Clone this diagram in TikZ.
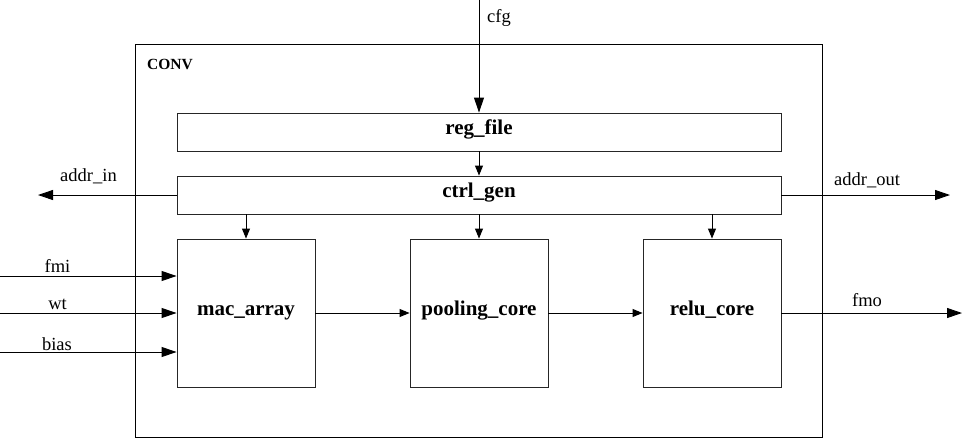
\documentclass[tikz,border=0pt]{standalone}
\usepackage{fontspec}
\setmainfont{Liberation Serif}
\usetikzlibrary{arrows.meta}
\begin{document}
\begin{tikzpicture}[x=1pt,y=-1pt,
  blk/.style={draw=black!85, line width=0.9pt, fill=white, inner sep=0pt, text height=0.7em, text depth=0.22em, font=\fontsize{21}{24}\selectfont\bfseries},
  lbl/.style={font=\fontsize{18.5}{22}\selectfont, inner sep=0pt},
  ext/.style={line width=0.9pt, -{Triangle[length=15pt,width=10pt]}},
  int/.style={line width=0.9pt, -{Triangle[length=10pt,width=8pt]}}]
\useasboundingbox (0,0) rectangle (964,440);
% CONV container
\node[draw, line width=0.9pt, minimum width=687pt, minimum height=393pt, inner sep=0pt] (conv) at (478.5,240.5) {};
\node[font=\fontsize{15.5}{18}\selectfont\bfseries, inner sep=0pt, anchor=west] (convl) at (147,64) {CONV};
% blocks
\node[blk, minimum width=604pt, minimum height=38pt] (reg) at (479,132) {reg\_file};
\node[blk, minimum width=604pt, minimum height=38pt] (ctrl) at (479,195) {ctrl\_gen};
\node[blk, minimum width=138pt, minimum height=148pt] (mac) at (246,313) {mac\_array};
\node[blk, minimum width=138pt, minimum height=148pt] (pool) at (479,313) {pooling\_core};
\node[blk, minimum width=138pt, minimum height=148pt] (relu) at (712,313) {relu\_core};
% coordinates
\coordinate (cfgs) at (479,0);
\coordinate (ain) at (38,195);
\coordinate (aout) at (950,195);
\coordinate (fmis) at (0,276);
\coordinate (wts) at (0,313);
\coordinate (biass) at (0,352);
\coordinate (fmoe) at (962,313);
% connectors
\draw[ext] (cfgs) -- (reg.north);
\draw[int] (reg.south) -- (ctrl.north);
\draw[int] (ctrl.south -| mac.north) -- (mac.north);
\draw[int] (ctrl.south) -- (pool.north);
\draw[int] (ctrl.south -| relu.north) -- (relu.north);
\draw[ext] (ctrl.west) -- (ain);
\draw[ext] (ctrl.east) -- (aout);
\draw[ext] (fmis) -- (fmis -| mac.west);
\draw[ext] (wts) -- (mac.west);
\draw[ext] (biass) -- (biass -| mac.west);
\draw[int] (mac.east) -- (pool.west);
\draw[int] (pool.east) -- (relu.west);
\draw[ext] (relu.east) -- (fmoe);
% labels
\node[lbl] (lcfg) at (499,18) {cfg};
\node[lbl] (lain) at (88.5,176) {addr\_in};
\node[lbl] (laout) at (867,180) {addr\_out};
\node[lbl] (lfmi) at (57.5,266) {fmi};
\node[lbl] (lwt) at (57.5,304) {wt};
\node[lbl] (lbias) at (57,344) {bias};
\node[lbl] (lfmo) at (867,300) {fmo};
\end{tikzpicture}
\end{document}
